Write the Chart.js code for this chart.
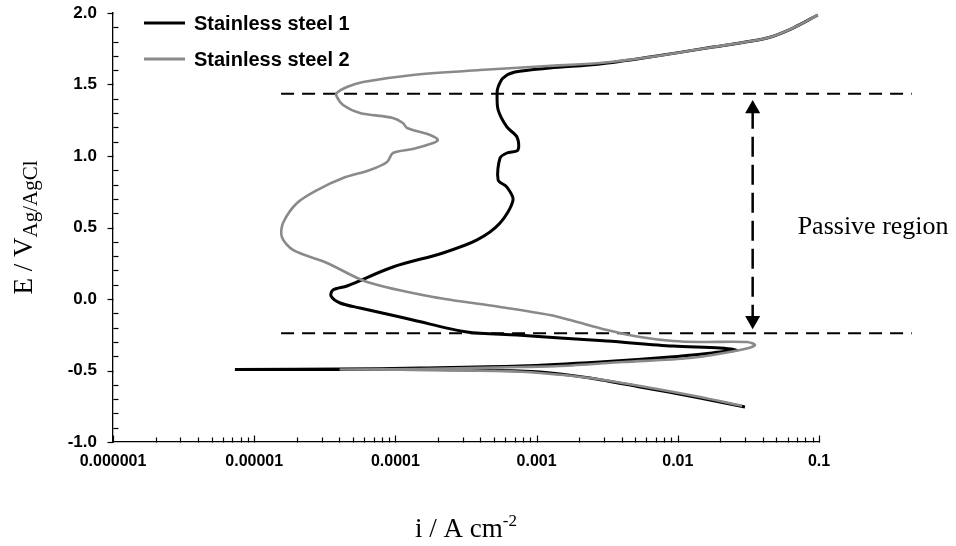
<!DOCTYPE html>
<html lang="en">
<head>
<meta charset="UTF-8">
<title>Polarization curves</title>
<script src="https://cdn.jsdelivr.net/npm/chart.js"></script>
<style>
    html, body { margin: 0; padding: 0; background: #fff; }
</style>
</head>
<body>
<canvas id="myChart" width="956" height="546"></canvas>

<script>
    // stainless steel 1: current density (A/cm2) and potential (V vs Ag/AgCl), in scan order
    const ss1Current = [0.0299, 0.01435, 0.0054, 0.00239, 0.00106, 3.97e-4, 1.08e-4, 4.06e-5, 7.3e-6, 4.06e-5,
        1.49e-4, 7.6e-4, 2.81e-3, 8.81e-3, 0.0199, 0.0262, 0.0199, 9.25e-3, 3.16e-3, 1.47e-3,
        7.26e-4, 3.21e-4, 1.33e-4, 1.08e-4, 5.61e-5, 4.06e-5, 3.5e-5, 3.61e-5, 4.54e-5, 9.6e-5,
        2.17e-4, 3.79e-4, 5.51e-4, 6.81e-4, 6.16e-4, 5.34e-4, 5.51e-4, 6.16e-4, 7.38e-4, 7.26e-4,
        6.16e-4, 5.34e-4, 5.25e-4, 5.34e-4, 5.78e-4, 7.03e-4, 1.24e-3, 2.81e-3, 6.35e-3, 0.01774,
        0.0429, 0.0655, 0.098];
    const ss1Potential = [-0.755, -0.692, -0.615, -0.552, -0.510, -0.497, -0.493, -0.493, -0.493, -0.490,
        -0.483, -0.469, -0.441, -0.406, -0.371, -0.357, -0.343, -0.329, -0.294, -0.273,
        -0.252, -0.231, -0.147, -0.126, -0.063, -0.028, 0.021, 0.063, 0.091, 0.224,
        0.322, 0.413, 0.531, 0.692, 0.783, 0.832, 0.986, 1.021, 1.042, 1.133,
        1.203, 1.322, 1.441, 1.483, 1.545, 1.587, 1.615, 1.643, 1.692, 1.762,
        1.825, 1.895, 1.986];

    // stainless steel 2
    const ss2Current = [0.0285, 0.01435, 0.0054, 0.00239, 0.00106, 5.51e-4, 2.07e-4, 4.1e-5, 1.49e-4, 7.6e-4,
        1.47e-3, 4.09e-3, 0.01219, 0.0276, 0.0352, 0.0309, 0.01435, 9.25e-3, 5.4e-3, 3.16e-3,
        1.73e-3, 1.24e-3, 5.51e-4, 1.85e-4, 6.3e-5, 3.28e-5, 1.88e-5, 1.57e-5, 1.6e-5, 2.01e-5,
        2.79e-5, 4.26e-5, 6.61e-5, 8.73e-5, 9.61e-5, 1.33e-4, 1.85e-4, 2.0e-4, 1.76e-4, 1.21e-4,
        1.13e-4, 9.6e-5, 5.61e-5, 4.26e-5, 3.85e-5, 3.85e-5, 4.54e-5, 5.9e-5, 1.33e-4, 3.97e-4,
        1.19e-3, 2.81e-3, 6.35e-3, 0.01774, 0.0429, 0.0655, 0.098];
    const ss2Potential = [-0.748, -0.685, -0.608, -0.552, -0.517, -0.503, -0.497, -0.493, -0.490, -0.476,
        -0.469, -0.441, -0.413, -0.357, -0.322, -0.301, -0.301, -0.294, -0.266, -0.217,
        -0.147, -0.112, -0.056, 0.014, 0.119, 0.252, 0.343, 0.434, 0.531, 0.671,
        0.762, 0.846, 0.902, 0.958, 1.021, 1.049, 1.091, 1.112, 1.147, 1.196,
        1.231, 1.266, 1.301, 1.357, 1.413, 1.441, 1.483, 1.517, 1.566, 1.601,
        1.629, 1.650, 1.692, 1.762, 1.825, 1.895, 1.986];

    const seriesLabels = ['Stainless steel 1', 'Stainless steel 2'];
    const xTickValues = [1e-6, 1e-5, 1e-4, 1e-3, 1e-2, 1e-1];
    const xTickLabels = ['0.000001', '0.00001', '0.0001', '0.001', '0.01', '0.1'];

    // passive region markers
    const passiveTop = 1.435;
    const passiveBottom = -0.24;
    const markerFrom = 1.55e-5;
    const markerTo = 0.454;
    const arrowCurrent = 0.0339;
    const arrowHeads = [1.33, -0.15];

    function toPoints(xs, ys) {
        return xs.map((x, i) => ({x: x, y: ys[i]}));
    }

    const serif = '"Liberation Serif", "Times New Roman", serif';
    const sans = '"Liberation Sans", Arial, sans-serif';

    const decorations = {
        id: 'decorations',
        afterDraw(chart) {
            const ctx = chart.ctx;
            const xs = chart.scales.x;
            const ys = chart.scales.y;
            const left = Math.round(xs.left) + 0.5;
            const bottom = Math.round(ys.bottom) + 0.5;
            ctx.save();
            ctx.strokeStyle = '#000';
            ctx.lineWidth = 1.2;

            // y ticks: major outside, minor inside
            for (let k = -10; k <= 20; k++) {
                const py = Math.round(ys.getPixelForValue(k / 10)) + 0.5;
                ctx.beginPath();
                if (k % 5 === 0) {
                    ctx.moveTo(left - 6, py);
                    ctx.lineTo(left, py);
                } else {
                    ctx.moveTo(left, py);
                    ctx.lineTo(left + 5, py);
                }
                ctx.stroke();
            }

            // x ticks: decades + 2..9 minors, pointing up
            for (let d = -6; d <= -1; d++) {
                for (let m = 1; m <= 9; m++) {
                    const v = m * Math.pow(10, d);
                    if (v > 0.1000001) continue;
                    const px = Math.round(xs.getPixelForValue(v)) + 0.5;
                    ctx.beginPath();
                    ctx.moveTo(px, bottom);
                    ctx.lineTo(px, bottom - (m === 1 ? 7 : 5));
                    ctx.stroke();
                }
            }

            // legend
            const legendY = [23, 59];
            chart.data.datasets.slice(0, 2).forEach((ds, i) => {
                ctx.strokeStyle = ds.borderColor;
                ctx.lineWidth = 3;
                ctx.beginPath();
                ctx.moveTo(144, legendY[i]);
                ctx.lineTo(185, legendY[i]);
                ctx.stroke();
                ctx.fillStyle = '#000';
                ctx.font = 'bold 20px ' + sans;
                ctx.textBaseline = 'middle';
                ctx.textAlign = 'left';
                ctx.fillText(ds.label, 194, legendY[i] + 1);
            });

            ctx.fillStyle = '#000';
            ctx.textBaseline = 'alphabetic';

            // y title with subscript
            ctx.save();
            ctx.translate(32, (ys.top + ys.bottom) / 2);
            ctx.rotate(-Math.PI / 2);
            ctx.font = '27px ' + serif;
            const main = 'E / V';
            const wMain = ctx.measureText(main).width;
            ctx.font = '21px ' + serif;
            const sub = 'Ag/AgCl';
            const wSub = ctx.measureText(sub).width;
            const start = -(wMain + wSub) / 2;
            ctx.font = '27px ' + serif;
            ctx.fillText(main, start, 0);
            ctx.font = '21px ' + serif;
            ctx.fillText(sub, start + wMain, 5);
            ctx.restore();

            // x title with superscript
            const cx = (xs.left + xs.right) / 2;
            ctx.font = '27px ' + serif;
            const xMain = 'i / A cm';
            const wx = ctx.measureText(xMain).width;
            ctx.font = '17px ' + serif;
            const sup = '-2';
            const wSup = ctx.measureText(sup).width;
            const sx = cx - (wx + wSup) / 2;
            ctx.font = '27px ' + serif;
            ctx.fillText(xMain, sx, 537);
            ctx.font = '17px ' + serif;
            ctx.fillText(sup, sx + wx, 526);

            // passive region label
            ctx.font = '26px ' + serif;
            ctx.textBaseline = 'middle';
            ctx.fillText('Passive region', xs.getPixelForValue(arrowCurrent) + 45, ys.getPixelForValue(0.5));

            ctx.restore();
        }
    };

    const data = {
        datasets: [{
            label: seriesLabels[0],
            data: toPoints(ss1Current, ss1Potential),
            borderColor: '#000000',
            borderWidth: 3,
            pointRadius: 0,
            tension: 0.3,
            order: 2
        }, {
            label: seriesLabels[1],
            data: toPoints(ss2Current, ss2Potential),
            borderColor: '#8a8a8a',
            borderWidth: 2.6,
            pointRadius: 0,
            tension: 0.3,
            order: 1
        }, {
            label: 'upper limit',
            data: [{x: markerFrom, y: passiveTop}, {x: markerTo, y: passiveTop}],
            borderColor: '#000',
            borderWidth: 2,
            borderDash: [13, 8],
            pointRadius: 0,
            clip: false,
            order: 3
        }, {
            label: 'lower limit',
            data: [{x: markerFrom, y: passiveBottom}, {x: markerTo, y: passiveBottom}],
            borderColor: '#000',
            borderWidth: 2,
            borderDash: [13, 8],
            pointRadius: 0,
            clip: false,
            order: 3
        }, {
            label: 'arrow',
            data: [{x: arrowCurrent, y: arrowHeads[0]}, {x: arrowCurrent, y: arrowHeads[1]}],
            borderColor: '#000',
            borderWidth: 2.5,
            borderDash: [20, 8],
            pointStyle: 'triangle',
            pointRadius: 8.7,
            pointRotation: [0, 180],
            pointBackgroundColor: '#000',
            pointBorderColor: '#000',
            pointBorderWidth: 0,
            clip: false,
            order: 3
        }]
    };

    const config = {
        type: 'line',
        data: data,
        options: {
            responsive: false,
            animation: false,
            layout: {padding: {top: 13, right: 137, left: 0, bottom: 0}},
            plugins: {
                legend: {display: false},
                tooltip: {enabled: false}
            },
            scales: {
                x: {
                    type: 'logarithmic',
                    min: 1e-6,
                    max: 0.1,
                    afterBuildTicks: (scale) => {
                        scale.ticks = xTickValues.map(v => ({value: v}));
                    },
                    afterFit: (scale) => {
                        scale.height = 104;
                        scale.paddingLeft = 0;
                        scale.paddingRight = 0;
                    },
                    grid: {display: false, drawTicks: false},
                    border: {display: true, color: '#000', width: 1.3},
                    ticks: {
                        autoSkip: false,
                        maxRotation: 0,
                        padding: 10,
                        color: '#000',
                        font: {family: sans, weight: 'bold', size: 16},
                        callback: (v, i) => xTickLabels[i]
                    }
                },
                y: {
                    type: 'linear',
                    min: -1,
                    max: 2,
                    afterFit: (scale) => {
                        scale.width = 113;
                        scale.paddingTop = 0;
                        scale.paddingBottom = 0;
                    },
                    grid: {display: false, drawTicks: false},
                    border: {display: true, color: '#000', width: 1.3},
                    ticks: {
                        stepSize: 0.5,
                        padding: 16,
                        color: '#000',
                        font: {family: sans, weight: 'bold', size: 17},
                        callback: (v) => v.toFixed(1)
                    }
                }
            }
        },
        plugins: [decorations]
    };

    const myChart = new Chart(document.getElementById('myChart'), config);
</script>
</body>
</html>
